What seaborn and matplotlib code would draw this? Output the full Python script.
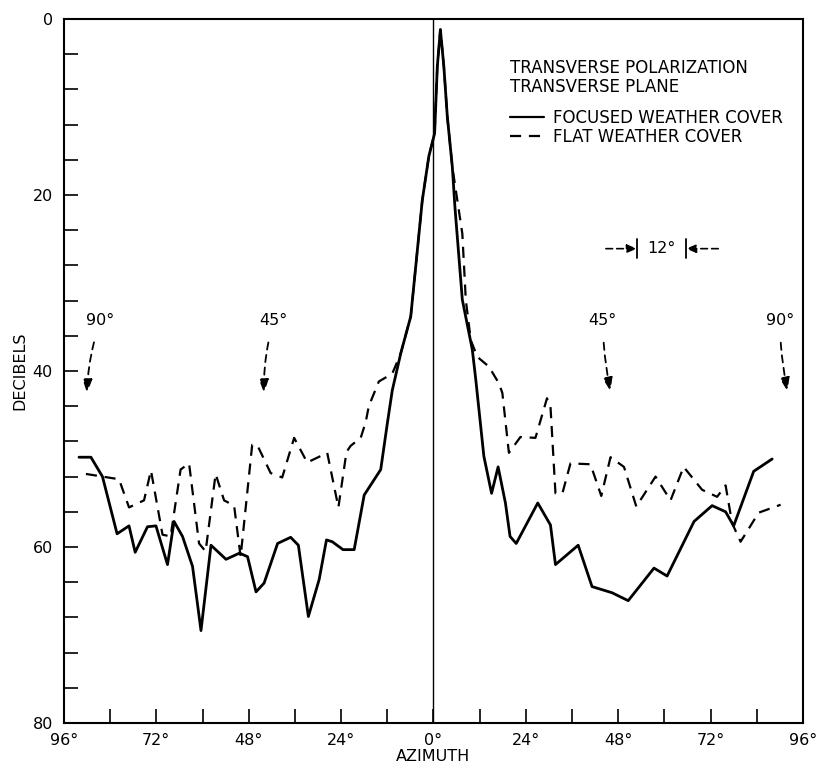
import matplotlib
matplotlib.use("Agg")
import matplotlib.pyplot as plt
import seaborn as sns
import pandas as pd

# ---------------- data ----------------
focused_az = [-92.1, -89.0, -86.0, -82.2, -79.1, -77.5, -74.3, -72.1, -69.1, -67.4,
              -65.2, -62.6, -60.4, -57.8, -53.9, -50.4, -48.3, -46.1, -44.0, -40.5,
              -37.1, -35.1, -32.5, -29.7, -27.8, -26.3, -23.5, -20.6, -18.0, -13.7,
              -12.0, -10.7, -8.5, -5.9, -4.6, -2.9, -1.2, 0.3, 1.0, 1.8,
              2.7, 3.6, 4.9, 5.6, 7.5, 10.1, 11.0, 13.1, 15.1, 16.8,
              18.7, 19.9, 21.5, 27.1, 30.4, 31.7, 37.6, 41.2, 46.4, 50.6,
              57.3, 60.7, 67.7, 72.4, 75.9, 78.0, 83.2, 88.0]
focused_db = [49.8, 49.8, 52.0, 58.5, 57.6, 60.6, 57.7, 57.6, 62.0, 57.1,
              58.8, 62.2, 69.5, 59.8, 61.4, 60.7, 61.1, 65.1, 64.1, 59.6,
              58.9, 59.8, 67.9, 63.7, 59.2, 59.4, 60.3, 60.3, 54.1, 51.2,
              46.0, 42.2, 38.0, 33.8, 28.1, 20.6, 15.6, 13.0, 5.4, 1.2,
              5.4, 11.1, 16.8, 21.5, 31.9, 37.6, 41.0, 49.7, 53.9, 50.9,
              55.0, 58.8, 59.6, 55.0, 57.5, 62.0, 59.8, 64.5, 65.2, 66.1,
              62.4, 63.3, 57.1, 55.3, 56.0, 57.6, 51.4, 50.0]

flat_az = [-90.3, -86.0, -81.7, -79.1, -75.2, -73.4, -70.4, -68.3, -65.7, -63.5,
           -60.9, -59.2, -56.6, -54.4, -51.8, -50.1, -47.1, -45.8, -42.3, -39.3,
           -36.2, -32.8, -27.6, -24.7, -22.6, -21.5, -18.9, -17.6, -16.8, -14.2,
           -10.7, -8.5, -5.9, -4.6, -2.9, -1.2, 0.3, 1.0, 1.8, 2.7,
           3.6, 4.9, 6.2, 7.5, 8.4, 9.7, 11.4, 14.4, 17.0, 17.9,
           19.6, 22.6, 26.5, 29.5, 30.4, 31.7, 33.5, 35.6, 40.8, 43.6,
           46.0, 49.5, 52.7, 57.7, 61.6, 65.0, 69.8, 73.7, 75.9, 77.6,
           79.8, 84.5, 90.2]
flat_db = [51.7, 52.0, 52.3, 55.5, 54.7, 51.3, 58.6, 58.8, 51.2, 50.5,
           59.6, 60.5, 51.7, 54.7, 55.3, 61.1, 48.4, 48.4, 51.6, 52.1,
           47.6, 50.4, 49.3, 55.5, 49.2, 48.5, 47.6, 45.8, 44.0, 41.2,
           40.3, 38.0, 33.8, 28.1, 20.6, 15.6, 13.0, 5.4, 1.2, 5.4,
           11.1, 16.8, 20.6, 24.4, 31.9, 36.5, 38.4, 39.5, 41.4, 42.5,
           49.3, 47.5, 47.6, 43.1, 44.0, 53.9, 53.9, 50.5, 50.6, 54.2,
           49.8, 50.9, 55.4, 52.0, 54.7, 50.9, 53.5, 54.3, 53.0, 57.3,
           59.4, 56.1, 55.2]

x_tick_values = [-96, -84, -72, -60, -48, -36, -24, -12, 0, 12, 24, 36, 48, 60, 72, 84, 96]
x_tick_labels = ["96°", "", "72°", "", "48°", "", "24°", "", "0°", "", "24°", "", "48°", "", "72°", "", "96°"]
y_tick_values = list(range(0, 81, 4))
y_tick_labels = [str(v) if v % 20 == 0 else "" for v in y_tick_values]

legend_title = "TRANSVERSE POLARIZATION\nTRANSVERSE PLANE"
series_labels = ["FOCUSED WEATHER COVER", "FLAT WEATHER COVER"]

# ---------------- style ----------------
sns.set_style("ticks")
plt.rcParams["font.family"] = ["DejaVu Sans"]
plt.rcParams["axes.linewidth"] = 1.5
for k in ["text.color", "axes.labelcolor", "xtick.color", "ytick.color", "axes.edgecolor"]:
    plt.rcParams[k] = "black"

fig = plt.figure(figsize=(8.17, 7.68), dpi=100)
ax = fig.add_axes([0.0783, 0.0586, 0.9045, 0.9167])

df_focused = pd.DataFrame({"az": focused_az, "db": focused_db})
df_flat = pd.DataFrame({"az": flat_az, "db": flat_db})

sns.lineplot(data=df_focused, x="az", y="db", ax=ax, color="black", lw=2.0,
             sort=False, estimator=None, label=series_labels[0])
sns.lineplot(data=df_flat, x="az", y="db", ax=ax, color="black", lw=1.6,
             sort=False, estimator=None, label=series_labels[1],
             linestyle=(0, (5, 3.5)))

ax.axvline(0, color="black", lw=1.0)

ax.set_xlim(-96, 96)
ax.set_ylim(80, 0)
ax.set_xticks(x_tick_values)
ax.set_xticklabels(x_tick_labels)
ax.set_yticks(y_tick_values)
ax.set_yticklabels(y_tick_labels)
ax.tick_params(axis="both", direction="in", length=10, width=1.2, labelsize=11.5,
               colors="black")
ax.tick_params(axis="x", pad=7)
ax.tick_params(axis="y", pad=8)
for s in ax.spines.values():
    s.set_visible(True)
    s.set_color("black")

ax.set_xlabel("AZIMUTH", fontsize=11.5, labelpad=1)
ax.set_ylabel("DECIBELS", fontsize=11.5, labelpad=4)

leg = ax.legend(title=legend_title, loc="upper left", bbox_to_anchor=(0.595, 0.952),
                frameon=False, fontsize=12, title_fontsize=12,
                handlelength=2.0, handletextpad=0.55, labelspacing=0.08,
                borderaxespad=0, alignment="left")
leg.get_title().set_linespacing(1.05)
leg._legend_box.sep = 9
for line in leg.get_lines():
    line.set_linewidth(1.6)

# ---------------- annotations ----------------
ann_kw = dict(arrowstyle="-|>,head_length=0.7,head_width=0.25", color="black",
              lw=1.3, linestyle=(0, (4, 3)))
ax.annotate("90°", xy=(-90.0, 42.5), xytext=(-86.5, 34.3), fontsize=11.5,
            ha="center", va="center",
            arrowprops=dict(**ann_kw, connectionstyle="arc3,rad=0.08", shrinkA=8, shrinkB=0))
ax.annotate("45°", xy=(-44.0, 42.5), xytext=(-41.5, 34.3), fontsize=11.5,
            ha="center", va="center",
            arrowprops=dict(**ann_kw, connectionstyle="arc3,rad=0.08", shrinkA=8, shrinkB=0))
ax.annotate("45°", xy=(46.0, 42.3), xytext=(44.0, 34.3), fontsize=11.5,
            ha="center", va="center",
            arrowprops=dict(**ann_kw, connectionstyle="arc3,rad=0.05", shrinkA=8, shrinkB=0))
ax.annotate("90°", xy=(92.0, 42.3), xytext=(90.0, 34.3), fontsize=11.5,
            ha="center", va="center",
            arrowprops=dict(**ann_kw, connectionstyle="arc3,rad=0.05", shrinkA=8, shrinkB=0))

# 12 degree marker
y12 = 26.1
ax.annotate("", xy=(52.9, y12), xytext=(44.8, y12),
            arrowprops=dict(arrowstyle="-|>,head_length=0.6,head_width=0.25", color="black",
                            lw=1.2, linestyle=(0, (4, 2.5)), shrinkA=0, shrinkB=0))
ax.annotate("", xy=(65.6, y12), xytext=(74.0, y12),
            arrowprops=dict(arrowstyle="-|>,head_length=0.6,head_width=0.25", color="black",
                            lw=1.2, linestyle=(0, (4, 2.5)), shrinkA=0, shrinkB=0))
ax.plot([52.9, 52.9], [25.0, 27.2], color="black", lw=1.3)
ax.plot([65.6, 65.6], [25.0, 27.2], color="black", lw=1.3)
ax.text(59.3, y12, "12°", fontsize=11.5, ha="center", va="center")

fig.savefig("out.png", dpi=100, facecolor="white")
